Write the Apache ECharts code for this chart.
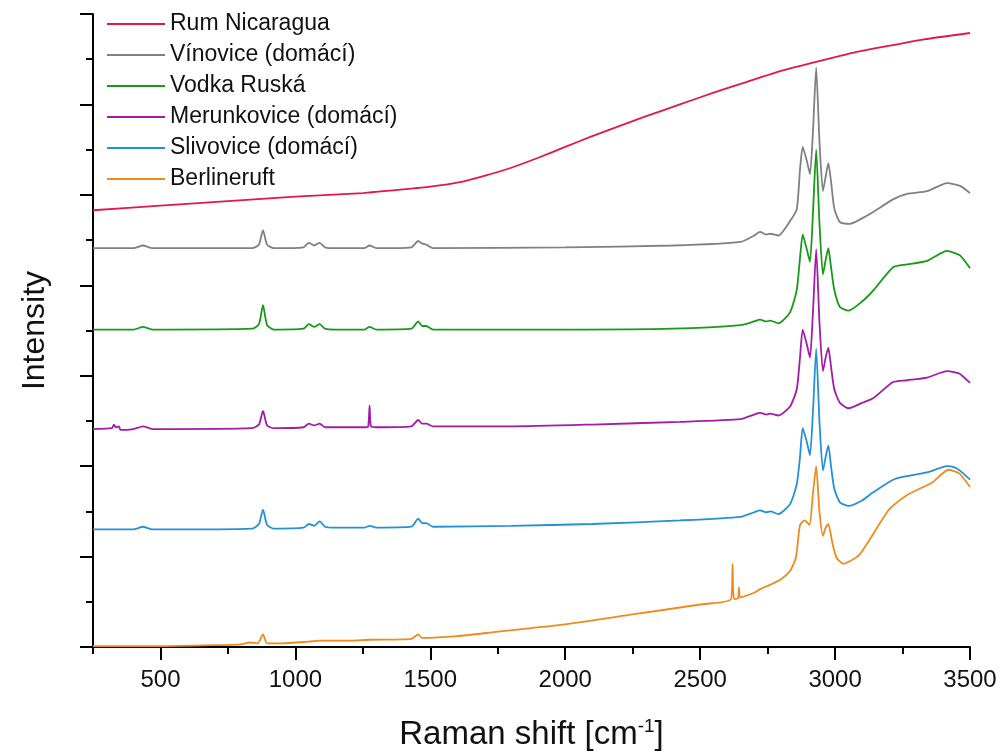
<!DOCTYPE html>
<html>
<head>
<meta charset="utf-8">
<title>Raman spectra</title>
<script src="https://cdn.jsdelivr.net/npm/echarts@6.0.0/dist/echarts.min.js"></script>
<style>
  html, body { margin: 0; padding: 0; background: #fff; }
  #chart { width: 1007px; height: 756px; }
</style>
</head>
<body>
<div id="chart"></div>
<script>
// legend names, same order as the curves
var names = ['Rum Nicaragua', 'Vínovice (domácí)', 'Vodka Ruská', 'Merunkovice (domácí)', 'Slivovice (domácí)', 'Berlineruft'];
var colors = ['#e3174b', '#808080', '#17991a', '#a21ca8', '#2590d6', '#f08a1f'];

// x tick labels (Raman shift), minor ticks between them
var xTicks = [500, 1000, 1500, 2000, 2500, 3000, 3500];
var xMinorTicks = [250, 750, 1250, 1750, 2250, 2750, 3250];

// spectra: [raman shift, intensity (offset, arb. units)]
var rum = [[250, 4.83], [500, 4.88], [750, 4.93], [1000, 4.98], [1250, 5.02], [1400, 5.06], [1500, 5.09], [1610, 5.14], [1700, 5.21], [1800, 5.30], [1900, 5.41], [2000, 5.53], [2100, 5.65], [2200, 5.76], [2300, 5.87], [2425, 6.00], [2550, 6.13], [2674, 6.25], [2800, 6.37], [2930, 6.47], [3050, 6.56], [3167, 6.63], [3330, 6.72], [3500, 6.79]];

var vinovice = [[250, 4.41], [400, 4.41], [435, 4.44], [470, 4.41], [840, 4.41], [865, 4.45], [880, 4.61], [895, 4.45], [920, 4.41], [1030, 4.42], [1050, 4.47], [1070, 4.44], [1090, 4.47], [1110, 4.42], [1150, 4.41], [1255, 4.41], [1275, 4.44], [1300, 4.41], [1430, 4.42], [1455, 4.49], [1470, 4.46], [1485, 4.45], [1510, 4.41], [2000, 4.42], [2400, 4.44], [2650, 4.48], [2700, 4.55], [2722, 4.59], [2745, 4.56], [2760, 4.57], [2790, 4.55], [2833, 4.71], [2858, 4.84], [2870, 5.28], [2880, 5.53], [2895, 5.38], [2907, 5.23], [2918, 5.70], [2930, 6.41], [2942, 5.60], [2955, 5.04], [2965, 5.20], [2975, 5.35], [2985, 5.15], [2997, 4.85], [3018, 4.70], [3055, 4.68], [3100, 4.74], [3141, 4.81], [3215, 4.95], [3267, 5.01], [3341, 5.04], [3415, 5.13], [3463, 5.10], [3500, 5.02]];

var vodka = [[250, 3.51], [400, 3.51], [435, 3.54], [470, 3.51], [840, 3.52], [865, 3.57], [880, 3.78], [895, 3.56], [920, 3.51], [1030, 3.52], [1050, 3.57], [1070, 3.54], [1090, 3.57], [1110, 3.52], [1150, 3.51], [1255, 3.51], [1275, 3.54], [1300, 3.51], [1430, 3.52], [1455, 3.60], [1470, 3.55], [1485, 3.55], [1510, 3.51], [2000, 3.51], [2400, 3.52], [2650, 3.56], [2700, 3.60], [2722, 3.62], [2745, 3.60], [2760, 3.61], [2790, 3.58], [2833, 3.70], [2858, 3.95], [2870, 4.30], [2880, 4.56], [2895, 4.40], [2907, 4.26], [2918, 4.80], [2930, 5.50], [2942, 4.70], [2955, 4.12], [2965, 4.28], [2975, 4.41], [2985, 4.20], [2997, 3.95], [3018, 3.76], [3050, 3.72], [3100, 3.82], [3141, 3.94], [3215, 4.20], [3267, 4.23], [3341, 4.27], [3415, 4.38], [3440, 4.36], [3463, 4.33], [3500, 4.19]];

var merunkovice = [[250, 2.41], [320, 2.42], [328, 2.46], [334, 2.43], [346, 2.44], [352, 2.40], [400, 2.41], [435, 2.44], [470, 2.41], [840, 2.42], [865, 2.46], [880, 2.61], [895, 2.45], [920, 2.42], [1030, 2.43], [1050, 2.47], [1070, 2.45], [1090, 2.47], [1110, 2.43], [1260, 2.43], [1270, 2.44], [1275, 2.67], [1280, 2.44], [1300, 2.43], [1430, 2.44], [1455, 2.51], [1470, 2.47], [1485, 2.47], [1510, 2.44], [1800, 2.44], [2100, 2.46], [2425, 2.49], [2650, 2.52], [2700, 2.57], [2722, 2.59], [2745, 2.57], [2760, 2.58], [2790, 2.56], [2833, 2.66], [2858, 2.85], [2870, 3.20], [2880, 3.51], [2895, 3.35], [2907, 3.20], [2918, 3.70], [2930, 4.40], [2942, 3.60], [2955, 3.05], [2965, 3.20], [2975, 3.31], [2985, 3.10], [2997, 2.85], [3018, 2.70], [3050, 2.64], [3100, 2.70], [3141, 2.75], [3215, 2.93], [3267, 2.95], [3341, 2.98], [3415, 3.05], [3440, 3.04], [3463, 3.02], [3500, 2.92]];

var slivovice = [[250, 1.30], [400, 1.30], [435, 1.33], [470, 1.30], [840, 1.31], [865, 1.36], [880, 1.52], [895, 1.35], [920, 1.31], [1030, 1.32], [1050, 1.36], [1070, 1.34], [1090, 1.39], [1110, 1.33], [1150, 1.32], [1255, 1.32], [1275, 1.34], [1300, 1.32], [1430, 1.33], [1455, 1.42], [1470, 1.37], [1485, 1.37], [1510, 1.33], [1800, 1.34], [2100, 1.36], [2425, 1.40], [2650, 1.44], [2700, 1.49], [2722, 1.51], [2745, 1.49], [2760, 1.50], [2790, 1.47], [2833, 1.58], [2858, 1.80], [2870, 2.10], [2880, 2.42], [2895, 2.27], [2907, 2.12], [2918, 2.60], [2930, 3.30], [2942, 2.50], [2955, 1.95], [2965, 2.10], [2975, 2.23], [2985, 2.00], [2997, 1.75], [3018, 1.60], [3050, 1.56], [3100, 1.62], [3141, 1.71], [3215, 1.85], [3267, 1.89], [3341, 1.93], [3415, 2.00], [3440, 1.99], [3463, 1.95], [3500, 1.85]];

var berlineruft = [[250, 0.01], [500, 0.01], [700, 0.02], [800, 0.03], [830, 0.05], [860, 0.04], [880, 0.14], [895, 0.04], [950, 0.04], [1050, 0.06], [1090, 0.07], [1200, 0.07], [1275, 0.08], [1430, 0.09], [1455, 0.14], [1470, 0.10], [1600, 0.12], [1750, 0.17], [2000, 0.25], [2250, 0.36], [2500, 0.47], [2615, 0.53], [2620, 0.92], [2625, 0.53], [2640, 0.54], [2644, 0.66], [2648, 0.55], [2700, 0.60], [2722, 0.64], [2760, 0.69], [2800, 0.75], [2835, 0.85], [2855, 0.99], [2870, 1.35], [2888, 1.40], [2905, 1.35], [2918, 1.70], [2930, 2.00], [2942, 1.50], [2955, 1.23], [2965, 1.32], [2975, 1.36], [2990, 1.15], [3005, 0.99], [3030, 0.92], [3090, 1.02], [3200, 1.52], [3267, 1.68], [3360, 1.82], [3420, 1.96], [3460, 1.92], [3500, 1.77]];

var spectra = [rum, vinovice, vodka, merunkovice, slivovice, berlineruft];

var chart = echarts.init(document.getElementById('chart'));
var font = 'Liberation Sans, Arial, sans-serif';

var series = spectra.map(function (d, i) {
  return {
    name: names[i],
    type: 'line',
    data: d,
    symbol: 'none',
    smooth: 0.2,
    xAxisIndex: 0,
    lineStyle: { color: colors[i], width: 1.8 },
    itemStyle: { color: colors[i] }
  };
});

chart.setOption({
  animation: false,
  backgroundColor: '#fff',
  grid: { left: 93, right: 37, top: 14, bottom: 106 },
  legend: {
    orient: 'vertical',
    left: 102,
    top: 7,
    icon: 'rect',
    itemWidth: 58,
    itemHeight: 2,
    itemGap: 7,
    textStyle: { fontFamily: font, fontSize: 23, color: '#111', lineHeight: 24 },
    data: names
  },
  xAxis: [{
    type: 'value',
    min: 250,
    max: 3500,
    name: 'Raman shift [cm{sup|-1}]',
    nameLocation: 'middle',
    nameGap: 70,
    nameTextStyle: {
      fontFamily: font, fontSize: 33, color: '#111',
      rich: { sup: { fontFamily: font, fontSize: 19, color: '#111', padding: [0, 0, 16, 0] } }
    },
    axisLine: { lineStyle: { color: '#000', width: 2 } },
    axisTick: { customValues: xTicks, length: 13, lineStyle: { color: '#000', width: 2 } },
    axisLabel: {
      customValues: xTicks, margin: 21, fontFamily: font, fontSize: 24, color: '#111',
      formatter: function (v) { return String(v); }
    },
    splitLine: { show: false }
  }, {
    // only the short ticks
    type: 'value',
    min: 250,
    max: 3500,
    position: 'bottom',
    axisLine: { show: false },
    axisTick: { customValues: xMinorTicks, length: 7, lineStyle: { color: '#000', width: 2 } },
    axisLabel: { show: false },
    splitLine: { show: false }
  }],
  yAxis: {
    type: 'value',
    min: 0,
    max: 7,
    interval: 1,
    name: 'Intensity',
    nameLocation: 'middle',
    nameGap: 42,
    nameTextStyle: { fontFamily: font, fontSize: 32, color: '#111' },
    axisLine: { show: true, lineStyle: { color: '#000', width: 2 } },
    axisTick: { length: 13, lineStyle: { color: '#000', width: 2 } },
    minorTick: { show: true, splitNumber: 2, length: 7, lineStyle: { color: '#000', width: 2 } },
    axisLabel: { show: false },
    splitLine: { show: false }
  },
  series: series
});
</script>
</body>
</html>
